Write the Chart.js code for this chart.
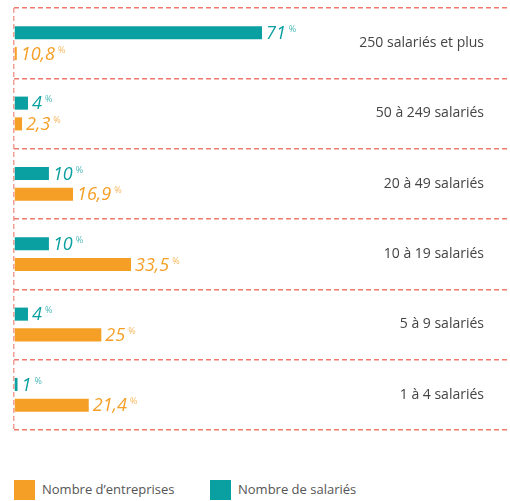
<!DOCTYPE html>
<html>
<head>
<meta charset="utf-8">
<script src="https://cdn.jsdelivr.net/npm/chart.js@4"></script>
<style>
  html,body{margin:0;padding:0;background:#fff;}
  #wrap{position:relative;width:510px;height:501px;}
  #chart{position:absolute;left:0;top:0;}
  #legend{position:absolute;left:0;top:480px;width:510px;height:21px;font:13px "Open Sans",sans-serif;color:#555;}
  #legend .item{position:absolute;top:0;height:20px;line-height:20px;}
  #legend .box{position:absolute;left:0;top:0;width:21px;height:20px;}
  #legend .txt{position:absolute;left:28px;top:-1px;white-space:nowrap;}
</style>
</head>
<body>
<div id="wrap">
  <canvas id="chart" width="510" height="445"></canvas>
  <div id="legend"></div>
</div>
<script>
// rows, top to bottom
const categories = ['250 salariés et plus','50 à 249 salariés','20 à 49 salariés','10 à 19 salariés','5 à 9 salariés','1 à 4 salariés'];
const salaries = [71, 4, 10, 10, 4, 1];
const salariesLabels = ['71','4','10','10','4','1'];
// bar for the first row is drawn short in the original graphic
const entreprises = [0.8, 2.3, 16.9, 33.5, 25, 21.4];
const entreprisesLabels = ['10,8','2,3','16,9','33,5','25','21,4'];

const TEAL='#0a9fa0', ORANGE='#f59f27';

// value labels at the bar ends, with a small % sign
const valueLabels = {
  id:'valueLabels',
  afterDatasetsDraw(chart){
    const ctx=chart.ctx;
    chart.data.datasets.forEach((ds,di)=>{
      const meta=chart.getDatasetMeta(di);
      meta.data.forEach((bar,i)=>{
        const txt=ds.valueLabels[i];
        const x=bar.x+4, y=bar.y;
        ctx.save();
        ctx.fillStyle=ds.backgroundColor;
        ctx.font='italic 18px "Open Sans", sans-serif';
        ctx.textAlign='left'; ctx.textBaseline='middle';
        ctx.fillText(txt,x,y+1);
        const w=ctx.measureText(txt).width;
        ctx.globalAlpha=0.75;
        ctx.font='9px "Open Sans", sans-serif';
        ctx.textBaseline='top';
        ctx.fillText('%',x+w+3,y-8);
        ctx.restore();
      });
    });
  }
};

// category names on the right
const rowLabels = {
  id:'rowLabels',
  afterDraw(chart){
    const ctx=chart.ctx, y=chart.scales.y;
    ctx.save();
    ctx.fillStyle='#444';
    ctx.font='14px "Open Sans", sans-serif';
    ctx.textAlign='right'; ctx.textBaseline='middle';
    chart.data.labels.forEach((l,i)=>ctx.fillText(l,484,y.getPixelForValue(i)));
    ctx.restore();
  }
};

const chart = new Chart(document.getElementById('chart').getContext('2d'), {
  type:'bar',
  data:{
    labels:categories,
    datasets:[
      {label:'Nombre de salariés', data:salaries, valueLabels:salariesLabels, backgroundColor:TEAL,
       categoryPercentage:0.59, barPercentage:0.63},
      {label:'Nombre d\u2019entreprises', data:entreprises, valueLabels:entreprisesLabels, backgroundColor:ORANGE,
       categoryPercentage:0.59, barPercentage:0.63}
    ]
  },
  options:{
    indexAxis:'y',
    responsive:false,
    animation:false,
    layout:{padding:{left:14,right:0,top:8,bottom:15}},
    plugins:{legend:{display:false},tooltip:{enabled:false}},
    scales:{
      x:{
        min:0, max:142,
        ticks:{display:false},
        border:{display:false, dash:[5,3]},
        grid:{drawTicks:false, lineWidth:1.5,
          color:c=>c.tick && c.tick.value===0 ? '#f2a096' : 'rgba(0,0,0,0)'}
      },
      y:{
        ticks:{display:false},
        border:{display:false, dash:[5,3]},
        grid:{drawTicks:false, offset:true, lineWidth:1.5, color:'#ee7b6c'}
      }
    }
  },
  plugins:[valueLabels,rowLabels]
});

// legend, entreprises first as in the original
const leg=document.getElementById('legend');
const lefts=[14,210];
chart.data.datasets.slice().reverse().forEach((ds,i)=>{
  const it=document.createElement('div');
  it.className='item'; it.style.left=lefts[i]+'px';
  it.innerHTML=`<div class="box" style="background:${ds.backgroundColor}"></div><span class="txt">${ds.label}</span>`;
  leg.appendChild(it);
});
</script>
</body>
</html>
